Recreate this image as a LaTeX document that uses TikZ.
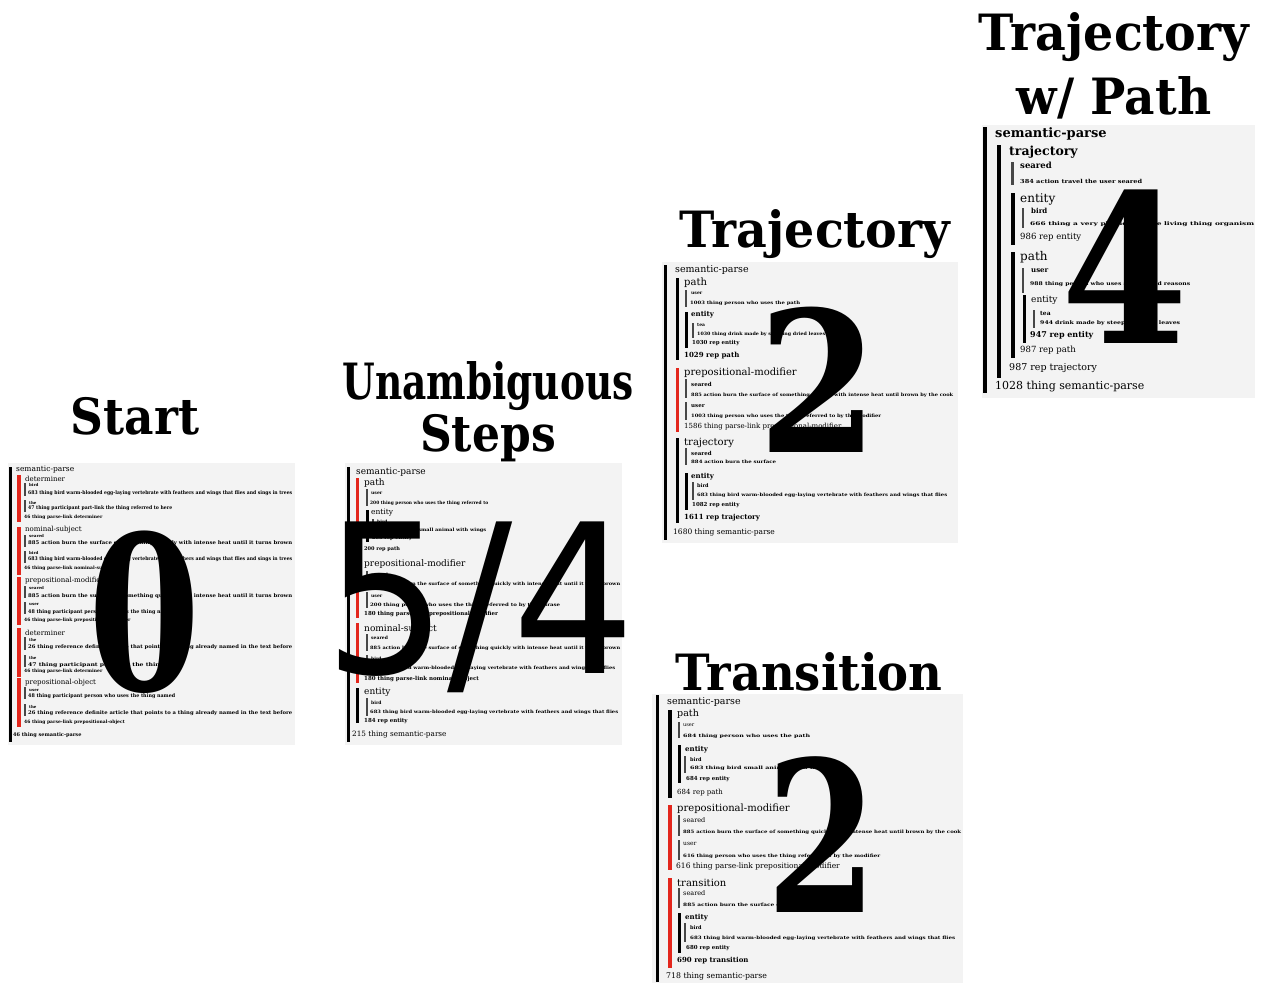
\documentclass[tikz,border=0pt]{standalone}
\usepackage{fontspec}
\usepackage{graphicx}
\setmainfont{DejaVu Serif}
\newfontfamily\numsans{DejaVu Sans}
\usetikzlibrary{positioning}
\definecolor{Paper}{HTML}{F3F3F3}
\definecolor{Mark}{HTML}{E3261C}
\definecolor{Sub}{HTML}{474747}
\newcommand\fs[1]{\fontsize{#1}{#1}\selectfont}
\newcounter{row}
% one text row of a parse panel
\newcommand\rw[4]{\stepcounter{row}\node[row,font=\fs{#1}] (r\arabic{row}) at (#2,#3) {#4};}
% one tiny gloss row, fitted to a width
\newcommand\gl[5]{\stepcounter{row}\node[row,font=\fs{#1}\bfseries] (r\arabic{row}) at (#2,#3) {\resizebox{#4pt}{\height}{#5}};}
\newcommand\vbar[5]{\fill[#1] (#2,#3) rectangle ({#2+#4},#5);}

\begin{document}
\begin{tikzpicture}[x=1pt,y=-1pt,
  panel/.style={fill=Paper,anchor=north west,inner sep=0},
  row/.style={anchor=west,inner sep=0},
  ttl/.style={font=\fs{50}\bfseries,anchor=base,inner sep=0},
  bignum/.style={font=\fs{215}\bfseries,anchor=base,inner sep=0}]
\useasboundingbox (0,0) rectangle (1265,983);

% panels
\node[panel,minimum width=287pt,minimum height=282pt] (pstart) at (8,463) {};
\node[panel,minimum width=277pt,minimum height=282pt] (punamb) at (345,463) {};
\node[panel,minimum width=296pt,minimum height=281pt] (ptraj) at (662,262) {};
\node[panel,minimum width=273pt,minimum height=273pt] (ppath) at (982,125) {};
\node[panel,minimum width=311pt,minimum height=289pt] (ptrans) at (652,694) {};

% ---- start
\vbar{black}{9}{467}{3}{742}
\rw{7.5}{16}{470}{semantic-parse}
\vbar{Mark}{17}{475}{4}{522}
\rw{7}{25}{479}{determiner}
\vbar{Sub}{24}{483}{2}{496}\rw{4}{29}{485}{\textbf{bird}}
\gl{5}{28}{493}{264}{683 thing bird warm-blooded egg-laying vertebrate with feathers and wings that flies and sings in trees}
\vbar{Sub}{24}{500}{2}{512}\rw{4}{29}{503}{\textbf{the}}
\gl{5}{28}{508}{144}{47 thing participant part-link the thing referred to here}
\rw{4.5}{24}{517}{\textbf{46 thing parse-link determiner}}
\vbar{Mark}{17}{527}{4}{575}
\rw{7}{25}{530}{nominal-subject}
\vbar{Sub}{24}{535}{2}{547}\rw{4}{29}{536}{\textbf{seared}}
\gl{5}{28}{543}{264}{885 action burn the surface of something quickly with intense heat until it turns brown}
\vbar{Sub}{24}{551}{2}{563}\rw{4}{29}{553}{\textbf{bird}}
\gl{5}{28}{559}{264}{683 thing bird warm-blooded egg-laying vertebrate with feathers and wings that flies and sings in trees}
\rw{4.5}{24}{568}{\textbf{46 thing parse-link nominal-subject}}
\vbar{Mark}{17}{577}{4}{625}
\rw{7}{25}{581}{prepositional-modifier}
\vbar{Sub}{24}{586}{2}{598}\rw{4}{29}{588}{\textbf{seared}}
\gl{5}{28}{596}{264}{885 action burn the surface of something quickly with intense heat until it turns brown}
\vbar{Sub}{24}{602}{2}{614}\rw{4}{29}{604}{\textbf{user}}
\gl{5}{28}{612}{147}{48 thing participant person who uses the thing named}
\rw{4.5}{24}{620}{\textbf{46 thing parse-link prepositional-modifier}}
\vbar{Mark}{17}{628}{4}{677}
\rw{7}{25}{633}{determiner}
\vbar{Sub}{24}{637}{2}{650}\rw{4}{29}{640}{\textbf{the}}
\gl{5}{28}{647}{264}{26 thing reference definite article that points to a thing already named in the text before}
\vbar{Sub}{24}{655}{2}{667}\rw{4}{29}{658}{\textbf{the}}
\gl{5}{28}{665}{136}{47 thing participant part-link the thing}
\rw{4.5}{24}{671}{\textbf{46 thing parse-link determiner}}
\vbar{Mark}{17}{678}{4}{727}
\rw{7}{25}{683}{prepositional-object}
\vbar{Sub}{24}{687}{2}{699}\rw{4}{29}{690}{\textbf{user}}
\gl{5}{28}{696}{147}{48 thing participant person who uses the thing named}
\vbar{Sub}{24}{704}{2}{716}\rw{4}{29}{707}{\textbf{the}}
\gl{5}{28}{713}{264}{26 thing reference definite article that points to a thing already named in the text before}
\rw{4.5}{24}{722}{\textbf{46 thing parse-link prepositional-object}}
\rw{5}{13}{735}{\textbf{46 thing semantic-parse}}

% ---- unambiguous steps
\vbar{black}{347}{467}{3}{742}
\rw{9}{356}{472}{semantic-parse}
\vbar{Mark}{356}{478}{3}{555}
\rw{9}{364}{483}{path}
\vbar{Sub}{366}{489}{2}{506}\rw{4.5}{371}{493}{\textbf{user}}
\gl{4.5}{370}{503}{118}{200 thing person who uses the thing referred to}
\vbar{black}{366}{510}{3}{542}
\rw{7.5}{371}{513}{entity}
\vbar{Sub}{372}{519}{2}{533}\rw{4.5}{377}{522}{\textbf{bird}}
\gl{4.5}{376}{530}{110}{683 thing bird small animal with wings}
\rw{5}{372}{538}{\textbf{200 rep entity}}
\rw{5}{364}{549}{\textbf{200 rep path}}
\vbar{Mark}{356}{560}{3}{618}
\rw{9}{364}{564}{prepositional-modifier}
\vbar{Sub}{366}{571}{2}{588}\rw{4.5}{371}{575}{\textbf{seared}}
\gl{4.5}{370}{584}{250}{885 action burn the surface of something quickly with intense heat until it turns brown}
\vbar{Sub}{366}{592}{2}{608}\rw{4.5}{371}{596}{\textbf{user}}
\gl{4.5}{370}{605}{190}{200 thing person who uses the thing referred to by the phrase}
\rw{5.5}{364}{614}{\textbf{180 thing parse-link prepositional-modifier}}
\vbar{Mark}{356}{623}{3}{683}
\rw{9}{364}{629}{nominal-subject}
\vbar{Sub}{366}{634}{2}{651}\rw{4.5}{371}{638}{\textbf{seared}}
\gl{4.5}{370}{648}{250}{885 action burn the surface of something quickly with intense heat until it turns brown}
\vbar{Sub}{366}{655}{2}{671}\rw{4.5}{371}{659}{\textbf{bird}}
\gl{4.5}{370}{668}{245}{683 thing bird warm-blooded egg-laying vertebrate with feathers and wings that flies}
\rw{5.5}{364}{679}{\textbf{180 thing parse-link nominal-subject}}
\vbar{black}{356}{688}{3}{723}
\rw{9}{364}{692}{entity}
\vbar{Sub}{366}{698}{2}{716}\rw{4.5}{371}{703}{\textbf{bird}}
\gl{4.5}{370}{712}{248}{683 thing bird warm-blooded egg-laying vertebrate with feathers and wings that flies}
\rw{5.5}{364}{721}{\textbf{184 rep entity}}
\rw{7.3}{352}{735}{215 thing semantic-parse}

% ---- trajectory
\vbar{black}{664}{265}{3}{540}
\rw{9.5}{675}{270}{semantic-parse}
\vbar{black}{676}{278}{3}{360}
\rw{10}{684}{283}{path}
\vbar{Sub}{685}{290}{2}{307}\rw{4.5}{691}{293}{\textbf{user}}
\gl{4.5}{690}{303}{110}{1003 thing person who uses the path}
\vbar{black}{685}{312}{3}{348}
\rw{7}{691}{315}{\textbf{entity}}
\vbar{Sub}{692}{323}{2}{338}\rw{4.5}{697}{325}{\textbf{tea}}
\gl{4.5}{697}{334}{128}{1030 thing drink made by steeping dried leaves}
\rw{5.5}{692}{343}{\textbf{1030 rep entity}}
\rw{7}{684}{356}{\textbf{1029 rep path}}
\vbar{Mark}{676}{368}{3}{432}
\rw{10}{684}{373}{prepositional-modifier}
\vbar{Sub}{685}{379}{2}{398}\rw{5.5}{691}{384}{\textbf{seared}}
\gl{4.5}{691}{395}{262}{885 action burn the surface of something quickly with intense heat until brown by the cook}
\vbar{Sub}{685}{402}{2}{420}\rw{5.5}{691}{406}{\textbf{user}}
\gl{4.5}{691}{416}{190}{1003 thing person who uses the thing referred to by the modifier}
\rw{7}{684}{427}{1586 thing parse-link prepositional-modifier}
\vbar{black}{676}{438}{3}{523}
\rw{10}{684}{443}{trajectory}
\vbar{Sub}{685}{448}{2}{465}\rw{5.5}{691}{453}{\textbf{seared}}
\gl{4.5}{691}{462}{85}{884 action burn the surface}
\vbar{black}{685}{473}{3}{510}
\rw{7}{691}{477}{\textbf{entity}}
\vbar{Sub}{692}{482}{2}{500}\rw{5}{697}{486}{\textbf{bird}}
\gl{4.5}{697}{495}{250}{683 thing bird warm-blooded egg-laying vertebrate with feathers and wings that flies}
\rw{5.5}{692}{505}{\textbf{1082 rep entity}}
\rw{7}{684}{518}{\textbf{1611 rep trajectory}}
\rw{7.5}{673}{532}{1680 thing semantic-parse}

% ---- trajectory with path
\vbar{black}{983}{127}{4}{393}
\rw{13}{995}{134}{\textbf{semantic-parse}}
\vbar{black}{997}{145}{4}{378}
\rw{12.5}{1009}{152}{\textbf{trajectory}}
\vbar{Sub}{1011}{162}{2.5}{185}\rw{8.5}{1020}{165}{\textbf{seared}}
\gl{5.5}{1020}{181}{122}{384 action travel the user seared}
\vbar{black}{1011}{193}{3.5}{245}
\rw{12}{1020}{199}{entity}
\vbar{Sub}{1022}{208}{2}{228}\rw{7}{1031}{211}{\textbf{bird}}
\gl{5}{1030}{224}{224}{666 thing a very physical whole living thing organism}
\rw{8.5}{1020}{237}{986 rep entity}
\vbar{black}{1011}{252}{3.5}{358}
\rw{12}{1020}{257}{path}
\vbar{Sub}{1022}{268}{2}{293}\rw{7}{1031}{271}{\textbf{user}}
\gl{5}{1030}{284}{160}{988 thing person who uses speech and reasons}
\vbar{black}{1023}{295}{3}{343}
\rw{9}{1031}{300}{entity}
\vbar{Sub}{1033}{310}{2}{328}\rw{6}{1040}{313}{\textbf{tea}}
\gl{5}{1040}{323}{140}{944 drink made by steeping dried leaves}
\rw{8}{1030}{335}{\textbf{947 rep entity}}
\rw{8.5}{1020}{350}{987 rep path}
\rw{9.5}{1009}{368}{987 rep trajectory}
\rw{11}{995}{387}{1028 thing semantic-parse}

% ---- transition
\vbar{black}{656}{695}{3}{982}
\rw{9.5}{667}{702}{semantic-parse}
\vbar{black}{668}{710}{3.5}{798}
\rw{9.5}{677}{714}{path}
\vbar{Sub}{678}{722}{2}{738}\rw{5}{683}{725}{user}
\gl{4.5}{683}{736}{127}{684 thing person who uses the path}
\vbar{black}{678}{745}{3}{783}
\rw{7}{685}{750}{\textbf{entity}}
\vbar{Sub}{684}{756}{2}{773}\rw{5}{690}{760}{\textbf{bird}}
\gl{4.5}{690}{768}{140}{683 thing bird small animal with wings}
\rw{5.5}{686}{779}{\textbf{684 rep entity}}
\rw{7}{677}{793}{684 rep path}
\vbar{Mark}{668}{805}{3.5}{870}
\rw{10}{677}{809}{prepositional-modifier}
\vbar{Sub}{678}{815}{2}{836}\rw{6.5}{683}{820}{seared}
\gl{4.5}{683}{832}{278}{885 action burn the surface of something quickly with intense heat until brown by the cook}
\vbar{Sub}{678}{840}{2}{860}\rw{6}{683}{844}{user}
\gl{4.5}{683}{856}{197}{616 thing person who uses the thing referred to by the modifier}
\rw{7.5}{676}{866}{616 thing parse-link prepositional-modifier}
\vbar{Mark}{668}{878}{3.5}{968}
\rw{10}{677}{883}{transition}
\vbar{Sub}{678}{888}{2}{908}\rw{6.5}{683}{893}{seared}
\gl{4.5}{683}{905}{117}{885 action burn the surface quickly}
\vbar{black}{678}{913}{3}{953}
\rw{7}{685}{918}{\textbf{entity}}
\vbar{Sub}{684}{923}{2}{942}\rw{5}{690}{928}{\textbf{bird}}
\gl{4.5}{690}{938}{265}{683 thing bird warm-blooded egg-laying vertebrate with feathers and wings that flies}
\rw{5.5}{686}{948}{\textbf{680 rep entity}}
\rw{7}{677}{961}{\textbf{690 rep transition}}
\rw{7.8}{666}{976}{718 thing semantic-parse}

% titles
\node[ttl] (tstart) at (135,434) {\scalebox{.91}[1]{Start}};
\node[ttl] (tunamb) at (488,399) {\scalebox{.75}[1]{Unambiguous}};
\node[ttl] (tsteps) at (488,451) {\scalebox{.88}[1]{Steps}};
\node[ttl] (ttraj) at (815,247) {\scalebox{.95}[1]{Trajectory}};
\node[ttl] (tpath1) at (1114,50) {\scalebox{.95}[1]{Trajectory}};
\node[ttl] (tpath2) at (1114,114) {\scalebox{.94}[1]{w/ Path}};
\node[ttl] (ttrans) at (809,690) {\scalebox{.93}[1]{Transition}};

% counts
\node[bignum] (nstart) at (145,690) {\scalebox{.75}[1]{0}};
\node[bignum,font=\fs{208}\numsans] (nunamb) at (480,673) {\scalebox{.93}[1]{5/4}};
\node[bignum,font=\fs{196}\bfseries] (ntraj) at (818,452) {\scalebox{.88}[1]{2}};
\node[bignum,font=\fs{207}\bfseries] (npath) at (1125,343) {\scalebox{.88}[1]{4}};
\node[bignum,font=\fs{210}\bfseries] (ntrans) at (822,912) {\scalebox{.76}[1]{2}};
\end{tikzpicture}
\end{document}
